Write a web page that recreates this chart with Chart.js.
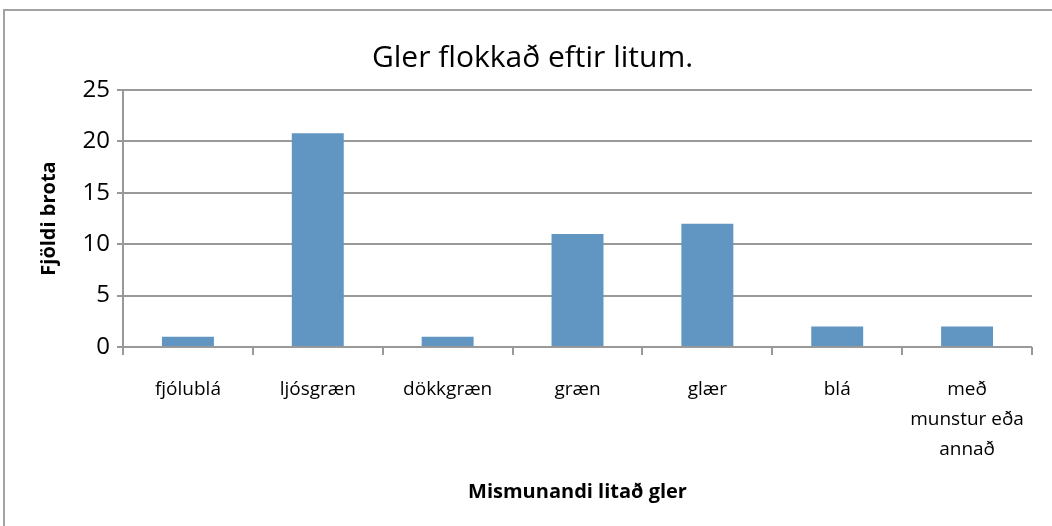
<!DOCTYPE html>
<html>
<head>
<meta charset="utf-8">
<script src="https://cdn.jsdelivr.net/npm/chart.js@4"></script>
<style>
    body { margin: 0; background: #fff; }
    #wrap { position: relative; width: 1052px; height: 526px; }
    #frame { position: absolute; left: 3px; top: 9px; right: 0; bottom: 0;
             border-top: 2px solid #a3a3a3; border-left: 2px solid #a3a3a3; }
    canvas { position: absolute; left: 0; top: 0; }
</style>
</head>
<body>
<div id="wrap">
    <div id="frame"></div>
    <canvas id="glerChart" width="1052" height="526"></canvas>
</div>
<script>
// Chart data
var categories = ['fjólublá', 'ljósgræn', 'dökkgræn', 'græn', 'glær', 'blá', ['með', 'munstur eða', 'annað']];
var pieceCounts = [1, 20.8, 1, 11, 12, 2, 2];
var yTicks = [0, 5, 10, 15, 20, 25];

var fontName = '"Open Sans", Lato, sans-serif';
var gridColor = '#999999';

var ctx = document.getElementById('glerChart').getContext('2d');

var glerChart = new Chart(ctx, {
    type: 'bar',
    data: {
        labels: categories,
        datasets: [{
            label: 'Fjöldi brota',
            data: pieceCounts,
            backgroundColor: '#6096c1',
            borderWidth: 0,
            categoryPercentage: 1,
            barPercentage: 0.4
        }]
    },
    options: {
        responsive: false,
        animation: false,
        layout: {
            padding: { left: 33, right: 20, top: 0, bottom: 0 }
        },
        plugins: {
            legend: { display: false },
            tooltip: { enabled: false },
            title: {
                display: true,
                text: 'Gler flokkað eftir litum.',
                color: '#000',
                font: { family: fontName, size: 30, weight: 'normal' },
                padding: { top: 40, bottom: 14 }
            }
        },
        scales: {
            x: {
                grid: {
                    offset: true,
                    drawOnChartArea: false,
                    drawTicks: true,
                    tickLength: 8,
                    color: gridColor,
                    lineWidth: 2
                },
                border: { display: false },
                ticks: {
                    color: '#000',
                    autoSkip: false,
                    maxRotation: 0,
                    padding: 20,
                    font: { family: fontName, size: 19, lineHeight: 1.58 }
                },
                title: {
                    display: true,
                    text: 'Mismunandi litað gler',
                    color: '#000',
                    font: { family: fontName, size: 20, weight: 'bold' },
                    padding: { top: 0, bottom: 22 }
                },
                afterFit: function(scale) {
                    scale.height = 179;
                }
            },
            y: {
                min: 0,
                max: 25,
                afterBuildTicks: function(scale) {
                    scale.ticks = yTicks.map(function(v) { return { value: v }; });
                },
                grid: {
                    color: gridColor,
                    lineWidth: 2,
                    tickLength: 6
                },
                border: { display: true, color: gridColor, width: 2 },
                ticks: {
                    color: '#000',
                    padding: 7,
                    font: { family: fontName, size: 24 }
                },
                title: {
                    display: true,
                    text: 'Fjöldi brota',
                    color: '#000',
                    font: { family: fontName, size: 20, weight: 'bold' },
                    padding: { top: 4, bottom: 0 }
                },
                afterFit: function(scale) {
                    scale.width = 90;
                }
            }
        }
    }
});
</script>
</body>
</html>
